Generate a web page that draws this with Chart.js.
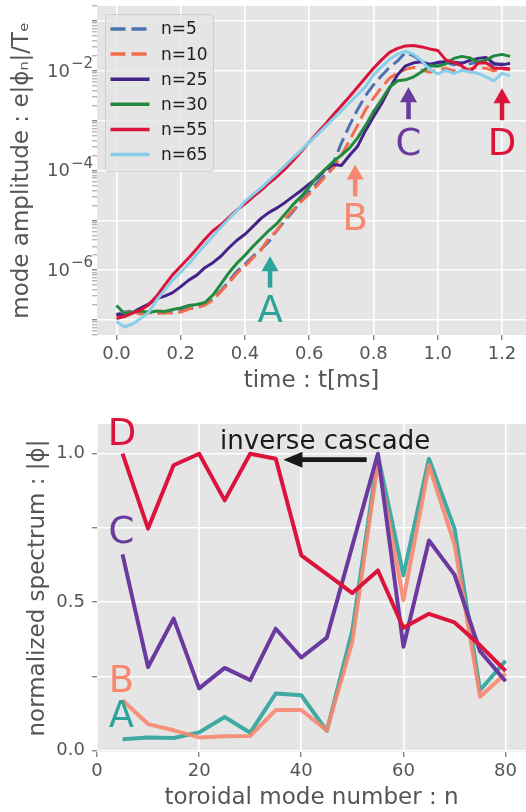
<!DOCTYPE html>
<html>
<head>
<meta charset="utf-8">
<script src="https://cdn.jsdelivr.net/npm/chart.js@4.4.1/dist/chart.umd.min.js"></script>
<style>
  body { margin: 0; background: #fff; }
  canvas { display: block; }
</style>
</head>
<body>
<canvas id="timeChart" width="526" height="400"></canvas>
<canvas id="spectrumChart" width="526" height="412"></canvas>
<script>
// ---- top panel : mode amplitude vs time (values are log10 of e|phi_n|/Te) ----
const time = [0, 0.025, 0.05, 0.075, 0.1, 0.125, 0.15, 0.175, 0.2, 0.225,
  0.25, 0.275, 0.3, 0.325, 0.35, 0.375, 0.4, 0.425, 0.45, 0.475,
  0.5, 0.525, 0.55, 0.575, 0.6, 0.625, 0.65, 0.675, 0.7, 0.725,
  0.75, 0.775, 0.8, 0.825, 0.85, 0.875, 0.9, 0.925, 0.95, 0.975,
  1.0, 1.025, 1.05, 1.075, 1.1, 1.125, 1.15, 1.175, 1.2, 1.225];

const amp5 = [-6.89, -6.84, -6.82, -6.86, -6.84, -6.85, -6.86, -6.83, -6.81, -6.77,
  -6.74, -6.69, -6.58, -6.41, -6.22, -6.02, -5.88, -5.72, -5.58, -5.42,
  -5.2, -5.0, -4.82, -4.6, -4.42, -4.25, -4.08, -3.85, -3.45, -3.1,
  -2.78, -2.5, -2.28, -2.1, -1.93, -1.8, -1.63, -1.7, -1.82, -1.87,
  -1.85, -1.83, -1.88, -1.84, -1.86, -1.82, -1.8, -1.88, -1.86, -1.84];
const amp10 = [-6.92, -6.86, -6.84, -6.88, -6.85, -6.87, -6.85, -6.86, -6.84, -6.78,
  -6.75, -6.7, -6.6, -6.43, -6.25, -6.06, -5.92, -5.75, -5.6, -5.35,
  -5.2, -4.97, -4.79, -4.62, -4.47, -4.3, -4.12, -3.95, -3.7, -3.4,
  -3.1, -2.78, -2.55, -2.33, -2.15, -2.04, -1.97, -1.93, -1.98, -2.03,
  -1.98, -1.95, -2.0, -1.97, -1.96, -1.93, -1.95, -2.0, -1.96, -1.98];
const amp25 = [-6.89, -6.9, -6.85, -6.76, -6.68, -6.57, -6.52, -6.45, -6.33, -6.2,
  -6.1, -5.95, -5.85, -5.72, -5.55, -5.4, -5.28, -5.12, -4.96, -4.84,
  -4.75, -4.64, -4.52, -4.4, -4.27, -4.15, -3.98, -3.88, -3.9, -3.7,
  -3.52, -3.2, -2.92, -2.66, -2.35, -2.08, -1.9, -1.84, -1.82, -1.87,
  -1.83, -1.82, -1.83, -1.85, -1.79, -1.75, -1.73, -1.85, -1.88, -1.85];
const amp30 = [-6.71, -6.87, -6.84, -6.82, -6.85, -6.82, -6.83, -6.79, -6.76, -6.71,
  -6.69, -6.65, -6.5, -6.28, -6.05, -5.86, -5.7, -5.52, -5.36, -5.2,
  -5.06, -4.87, -4.68, -4.52, -4.33, -4.12, -3.97, -3.82, -3.69, -3.55,
  -3.35, -3.1, -2.82, -2.58, -2.33, -2.2, -2.18, -2.12, -2.02, -1.9,
  -1.91, -1.86, -1.75, -1.71, -1.74, -1.83, -1.78, -1.7, -1.67, -1.71];
const amp55 = [-6.97, -6.93, -6.86, -6.8, -6.7, -6.52, -6.3, -6.09, -5.92, -5.75,
  -5.57, -5.38, -5.21, -5.09, -4.94, -4.79, -4.67, -4.53, -4.4, -4.25,
  -4.12, -3.97, -3.8, -3.62, -3.43, -3.25, -3.07, -2.88, -2.7, -2.52,
  -2.33, -2.14, -1.95, -1.78, -1.63, -1.55, -1.5, -1.49, -1.52, -1.56,
  -1.59, -1.78, -1.83, -1.9, -2.02, -1.85, -1.84, -1.95, -1.95, -1.96];
const amp65 = [-7.03, -7.14, -7.08, -6.97, -6.85, -6.6, -6.4, -6.2, -6.04, -5.87,
  -5.68, -5.5, -5.32, -5.14, -4.97, -4.8, -4.62, -4.48, -4.35, -4.2,
  -4.05, -3.9, -3.74, -3.59, -3.43, -3.28, -3.12, -2.96, -2.8, -2.64,
  -2.48, -2.32, -2.08, -1.92, -1.77, -1.66, -1.61, -1.67, -1.8, -1.97,
  -2.06, -1.99, -2.05, -1.99, -2.02, -2.05, -2.12, -2.2, -2.05, -2.1];

const timeTicks = [0, 0.2, 0.4, 0.6, 0.8, 1.0, 1.2];
const ampLabelExps = [-6, -4, -2];

// ---- bottom panel : normalized spectrum vs toroidal mode number ----
const modeNumbers = [5, 10, 15, 20, 25, 30, 35, 40, 45, 50, 55, 60, 65, 70, 75, 80];
const specA = [0.039, 0.045, 0.043, 0.062, 0.114, 0.061, 0.193, 0.187, 0.067, 0.406, 0.994, 0.591, 0.983, 0.748, 0.204, 0.303];
const specB = [0.17, 0.09, 0.069, 0.045, 0.049, 0.05, 0.137, 0.137, 0.069, 0.367, 0.972, 0.507, 0.961, 0.695, 0.182, 0.26];
const specC = [0.661, 0.282, 0.445, 0.21, 0.279, 0.238, 0.411, 0.314, 0.381, 0.69, 1.0, 0.35, 0.708, 0.593, 0.335, 0.234];
const specD = [1.0, 0.748, 0.961, 1.0, 0.843, 1.0, 0.983, 0.658, 0.595, 0.531, 0.607, 0.414, 0.461, 0.432, 0.355, 0.269];

const modeTicks = [0, 20, 40, 60, 80];
const specTicks = [0, 0.25, 0.5, 0.75, 1.0];
const specLabelTicks = [0, 0.5, 1.0];

const TEAL = '#2ca39b', SALMON = '#f7876f', PURPLE = '#6b3a9e', CRIMSON = '#dc143c';
const FONT = '"DejaVu Sans", sans-serif';

Chart.defaults.font.family = FONT;
Chart.defaults.color = '#555';

const ampSeries = [
  {label: 'n=5', data: amp5, color: '#4c72b0', dash: [15, 6]},
  {label: 'n=10', data: amp10, color: '#f26b4b', dash: [15, 6]},
  {label: 'n=25', data: amp25, color: '#45228a'},
  {label: 'n=30', data: amp30, color: '#218a3e'},
  {label: 'n=55', data: amp55, color: CRIMSON},
  {label: 'n=65', data: amp65, color: '#87ceeb'}
];

// arrows + letters marking the times used in the bottom panel (log10 units)
const arrowNotes = [
  {text: 'A', t: 0.478, tip: -5.72, base: -6.35, letter: -7.05, color: TEAL},
  {text: 'B', t: 0.743, tip: -3.88, base: -4.52, letter: -5.19, color: SALMON},
  {text: 'C', t: 0.909, tip: -2.33, base: -2.97, letter: -3.68, color: PURPLE},
  {text: 'D', t: 1.2, tip: -2.35, base: -2.99, letter: -3.69, color: CRIMSON}
];

const specSeries = [
  {data: specA, color: 'rgba(44,163,155,0.9)'},
  {data: specB, color: 'rgba(247,135,111,0.9)'},
  {data: specC, color: PURPLE},
  {data: specD, color: CRIMSON}
];
const specNotes = [
  {text: 'D', n: 4.9, v: 1.028, color: CRIMSON},
  {text: 'C', n: 4.8, v: 0.698, color: PURPLE},
  {text: 'B', n: 4.8, v: 0.198, color: SALMON},
  {text: 'A', n: 4.8, v: 0.081, color: TEAL}
];
const cascade = {text: 'inverse cascade', n: 24.1, v: 1.017, tailN: 52.8, tipN: 36.5, arrowV: 0.98};

const isDecade = v => Math.abs(Math.log10(v) - Math.round(Math.log10(v))) < 1e-6;

const panelBg = {
  id: 'panelBg',
  beforeDraw(chart) {
    const {ctx, chartArea: a} = chart;
    ctx.save();
    ctx.fillStyle = '#e5e5e5';
    ctx.fillRect(a.left, a.top, a.right - a.left, a.bottom - a.top);
    ctx.restore();
  }
};

function arrowUp(ctx, x, yTip, yBase, color) {
  const head = 15, half = 8.5, shaft = 4.5;
  ctx.fillStyle = color;
  ctx.fillRect(x - shaft / 2, yTip + head - 1, shaft, yBase - yTip - head + 1);
  ctx.beginPath();
  ctx.moveTo(x, yTip);
  ctx.lineTo(x - half, yTip + head);
  ctx.lineTo(x + half, yTip + head);
  ctx.closePath();
  ctx.fill();
}

const timeDecor = {
  id: 'timeDecor',
  afterDraw(chart) {
    const {ctx} = chart;
    const xs = chart.scales.x, ys = chart.scales.y;
    ctx.save();
    // y tick labels 10^-k
    ctx.fillStyle = '#555';
    ampLabelExps.forEach(e => {
      const py = ys.getPixelForValue(Math.pow(10, e));
      const sup = '\u2212' + Math.abs(e);
      ctx.font = '15px ' + FONT;
      const sw = ctx.measureText(sup).width;
      ctx.textAlign = 'right';
      ctx.textBaseline = 'alphabetic';
      ctx.fillText(sup, 93, py - 3);
      ctx.font = '18px ' + FONT;
      ctx.textBaseline = 'middle';
      ctx.fillText('10', 93 - sw - 1, py + 1);
    });
    // arrows
    arrowNotes.forEach(a => {
      const x = xs.getPixelForValue(a.t);
      arrowUp(ctx, x, ys.getPixelForValue(Math.pow(10, a.tip)), ys.getPixelForValue(Math.pow(10, a.base)), a.color);
      ctx.font = '37px ' + FONT;
      ctx.textAlign = 'center';
      ctx.textBaseline = 'alphabetic';
      ctx.fillText(a.text, x, ys.getPixelForValue(Math.pow(10, a.letter)));
    });
    // legend box inside the axes
    const bx = 105.5, by = 14.5, bw = 108, bh = 157;
    ctx.fillStyle = 'rgba(229,229,229,0.8)';
    ctx.strokeStyle = 'rgba(204,204,204,0.9)';
    ctx.lineWidth = 1;
    ctx.beginPath();
    ctx.roundRect(bx, by, bw, bh, 3);
    ctx.fill();
    ctx.stroke();
    ampSeries.forEach((s, i) => {
      const ry = 29 + i * 25.1;
      ctx.strokeStyle = s.color;
      ctx.lineWidth = 3.5;
      ctx.setLineDash(s.dash || []);
      ctx.beginPath();
      ctx.moveTo(110.5, ry);
      ctx.lineTo(149.5, ry);
      ctx.stroke();
      ctx.setLineDash([]);
      ctx.fillStyle = '#222';
      ctx.font = '17px ' + FONT;
      ctx.textAlign = 'left';
      ctx.textBaseline = 'middle';
      ctx.fillText(s.label, 161, ry + 1);
    });
    ctx.restore();
  }
};

new Chart(document.getElementById('timeChart'), {
  type: 'line',
  data: {
    datasets: ampSeries.map((s, i) => ({
      label: s.label,
      data: s.data.map((v, k) => ({x: time[k], y: Math.pow(10, v)})),
      borderColor: s.color,
      borderWidth: 3,
      borderDash: s.dash || [],
      borderJoinStyle: 'round',
      pointRadius: 0,
      tension: 0,
      fill: false,
      order: ampSeries.length - i
    }))
  },
  options: {
    responsive: false,
    animation: false,
    events: [],
    layout: {padding: {top: 6, left: 0, right: 0, bottom: 0}},
    plugins: {legend: {display: false}, tooltip: {enabled: false}},
    scales: {
      x: {
        type: 'linear', min: -0.0607, max: 1.2747, bounds: 'data',
        afterBuildTicks: s => { s.ticks = timeTicks.map(v => ({value: v})); },
        afterFit: s => { s.height = 65; s.paddingLeft = 0; s.paddingRight = 0; },
        ticks: {callback: v => v.toFixed(1), font: {size: 18}, color: '#555', padding: 4, maxRotation: 0, autoSkip: false},
        grid: {color: '#fff', lineWidth: 1.6, tickColor: '#555', tickLength: 5, tickWidth: 1},
        border: {display: false},
        title: {display: true, text: 'time : t[ms]', font: {size: 23}, color: '#555', padding: {top: 0, bottom: 5}}
      },
      y: {
        type: 'logarithmic', min: 5e-8, max: 0.2, bounds: 'data',
        afterBuildTicks: s => {
          const ticks = [];
          for (let e = -8; e <= 0; e++) {
            for (let m = 1; m <= 9; m++) {
              const v = m * Math.pow(10, e);
              if (v >= 5e-8 * 0.999 && v <= 0.2 * 1.001) ticks.push({value: v});
            }
          }
          s.ticks = ticks;
        },
        afterFit: s => { s.width = 97; s.paddingTop = 0; s.paddingBottom = 0; },
        ticks: {callback: () => '', autoSkip: false, padding: 4},
        grid: {
          color: c => isDecade(c.tick.value) ? '#fff' : 'rgba(0,0,0,0)',
          lineWidth: 1.6,
          tickColor: '#555',
          tickLength: 5,
          tickWidth: c => isDecade(c.tick.value) ? 1 : 0.6
        },
        border: {display: false},
        title: {display: true, text: 'mode amplitude : e|\u03d5\u2099|/T\u2091', font: {size: 23}, color: '#555', padding: {top: 8, bottom: 0}}
      }
    }
  },
  plugins: [panelBg, timeDecor]
});

const specDecor = {
  id: 'specDecor',
  afterDraw(chart) {
    const {ctx} = chart;
    const xs = chart.scales.x, ys = chart.scales.y;
    ctx.save();
    ctx.font = '37px ' + FONT;
    ctx.textAlign = 'center';
    ctx.textBaseline = 'alphabetic';
    specNotes.forEach(n => {
      ctx.fillStyle = n.color;
      ctx.fillText(n.text, xs.getPixelForValue(n.n), ys.getPixelForValue(n.v));
    });
    ctx.fillStyle = '#1a1a1a';
    ctx.font = '26px ' + FONT;
    ctx.textAlign = 'left';
    ctx.fillText(cascade.text, xs.getPixelForValue(cascade.n), ys.getPixelForValue(cascade.v));
    const ay = ys.getPixelForValue(cascade.arrowV);
    const tail = xs.getPixelForValue(cascade.tailN), tip = xs.getPixelForValue(cascade.tipN);
    const head = 19, half = 8;
    ctx.fillRect(tip + head - 1, ay - 2.4, tail - tip - head + 1, 4.8);
    ctx.beginPath();
    ctx.moveTo(tip, ay);
    ctx.lineTo(tip + head, ay - half);
    ctx.lineTo(tip + head, ay + half);
    ctx.closePath();
    ctx.fill();
    ctx.restore();
  }
};

new Chart(document.getElementById('spectrumChart'), {
  type: 'line',
  data: {
    datasets: specSeries.map((s, i) => ({
      data: s.data.map((v, k) => ({x: modeNumbers[k], y: v})),
      borderColor: s.color,
      borderWidth: 4,
      borderJoinStyle: 'round',
      pointRadius: 0,
      tension: 0,
      fill: false,
      order: specSeries.length - i
    }))
  },
  options: {
    responsive: false,
    animation: false,
    events: [],
    layout: {padding: {top: 24, left: 0, right: 0, bottom: 0}},
    plugins: {legend: {display: false}, tooltip: {enabled: false}},
    scales: {
      x: {
        type: 'linear', min: 0, max: 84, bounds: 'data',
        afterBuildTicks: s => { s.ticks = modeTicks.map(v => ({value: v})); },
        afterFit: s => { s.height = 60; s.paddingLeft = 0; s.paddingRight = 0; },
        ticks: {callback: v => String(v), font: {size: 18}, color: '#555', padding: 4, maxRotation: 0, autoSkip: false},
        grid: {color: '#fff', lineWidth: 1.6, tickColor: '#555', tickLength: 5, tickWidth: 1},
        border: {display: false},
        title: {display: true, text: 'toroidal mode number : n', font: {size: 23}, color: '#555', padding: {top: 0, bottom: 0}}
      },
      y: {
        type: 'linear', min: -0.004, max: 1.1, bounds: 'data',
        afterBuildTicks: s => { s.ticks = specTicks.map(v => ({value: v})); },
        afterFit: s => { s.width = 97; s.paddingTop = 0; s.paddingBottom = 0; },
        ticks: {
          callback: v => specLabelTicks.some(t => Math.abs(t - v) < 1e-9) ? v.toFixed(1) : '',
          font: {size: 18}, color: '#555', padding: 7, autoSkip: false
        },
        grid: {color: '#fff', lineWidth: 1.6, tickColor: '#555', tickLength: 5, tickWidth: 1},
        border: {display: false},
        title: {display: true, text: 'normalized spectrum : |\u03d5|', font: {size: 23}, color: '#555', padding: {top: 24, bottom: 0}}
      }
    }
  },
  plugins: [panelBg, specDecor]
});
</script>
</body>
</html>
